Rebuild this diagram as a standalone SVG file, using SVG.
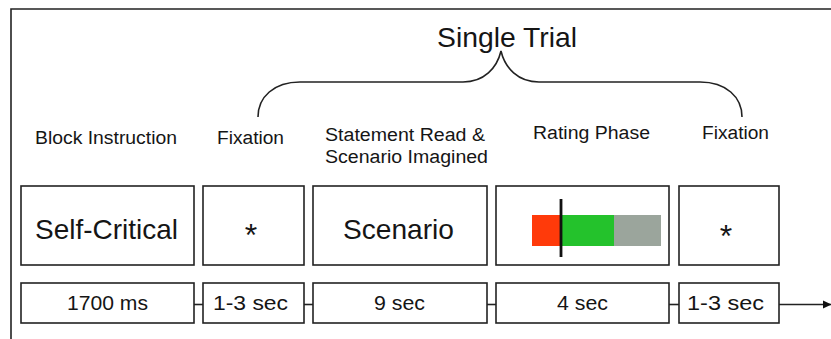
<svg xmlns="http://www.w3.org/2000/svg" width="831" height="339" viewBox="0 0 831 339">
<style>
text{font-family:"Liberation Sans",Arial,Helvetica,sans-serif;fill:#151515;text-anchor:middle}
.box{fill:#fff;stroke:#222;stroke-width:1.6}
.ln{fill:none;stroke:#222;stroke-width:1.6}
.lab{font-size:18.8px}
.big{font-size:28.5px}
.sm{font-size:20px}
.ast{font-size:32px}
</style>
<defs>
<marker id="arr" markerWidth="9" markerHeight="9" refX="8" refY="4.5" orient="auto" markerUnits="userSpaceOnUse">
<path d="M0,0.5 L8.5,4.5 L0,8.5 Z" fill="#111"/>
</marker>
</defs>
<g id="frame">
<path class="ln" d="M11,339 L11,9 L831,9"/>
</g>
<g id="title">
<text x="507" y="46.5" style="font-size:27.5px" textLength="140" lengthAdjust="spacingAndGlyphs">Single Trial</text>
<path class="ln" d="M258,117 C258,97 274,82 300,82 L463,82 C484,82 497,68 501,51 C505,68 518,82 539,82 L700,82 C726,82 742,97 742,117"/>
</g>
<g id="labels">
<text class="lab" x="106" y="144" textLength="142" lengthAdjust="spacingAndGlyphs">Block Instruction</text>
<text class="lab" x="250.5" y="143.5" textLength="67" lengthAdjust="spacingAndGlyphs">Fixation</text>
<text class="lab" x="405" y="140.5" textLength="160" lengthAdjust="spacingAndGlyphs">Statement Read &amp;</text>
<text class="lab" x="406.5" y="163" textLength="163" lengthAdjust="spacingAndGlyphs">Scenario Imagined</text>
<text class="lab" x="591.5" y="139" textLength="117" lengthAdjust="spacingAndGlyphs">Rating Phase</text>
<text class="lab" x="735.5" y="139" textLength="67" lengthAdjust="spacingAndGlyphs">Fixation</text>
</g>
<g id="instruction">
<rect class="box" x="21" y="186" width="173" height="79"/>
<text class="big" x="106.5" y="238.5" textLength="143" lengthAdjust="spacingAndGlyphs">Self-Critical</text>
</g>
<g id="fixation1">
<rect class="box" x="203" y="186" width="101" height="79"/>
<text class="ast" x="251" y="246">*</text>
</g>
<g id="scenario">
<rect class="box" x="313" y="186" width="174" height="79"/>
<text class="big" x="398.5" y="239.3" textLength="111" lengthAdjust="spacingAndGlyphs">Scenario</text>
</g>
<g id="rating">
<rect class="box" x="496" y="186" width="173" height="79"/>
<rect x="532" y="215" width="29" height="31" fill="#FF3A0A"/>
<rect x="561" y="215" width="53" height="31" fill="#24C22C"/>
<rect x="614" y="215" width="47" height="31" fill="#9BA59C"/>
<line x1="561" y1="199" x2="561" y2="257" stroke="#111" stroke-width="2.8"/>
</g>
<g id="fixation2">
<rect class="box" x="679" y="186" width="100" height="79"/>
<text class="ast" x="726" y="247">*</text>
</g>
<g id="t1"><rect class="box" x="21" y="283" width="173" height="40"/><text class="sm" x="107.5" y="310" textLength="81" lengthAdjust="spacingAndGlyphs">1700 ms</text></g>
<g id="t2"><rect class="box" x="203" y="283" width="101" height="40"/><text class="sm" x="250.5" y="310" textLength="75" lengthAdjust="spacingAndGlyphs">1-3 sec</text></g>
<g id="t3"><rect class="box" x="313" y="283" width="174" height="40"/><text class="sm" x="399.5" y="310" textLength="51" lengthAdjust="spacingAndGlyphs">9 sec</text></g>
<g id="t4"><rect class="box" x="496" y="283" width="173" height="40"/><text class="sm" x="582.5" y="310" textLength="51" lengthAdjust="spacingAndGlyphs">4 sec</text></g>
<g id="t5"><rect class="box" x="679" y="283" width="100" height="40"/><text class="sm" x="725.5" y="310" textLength="77" lengthAdjust="spacingAndGlyphs">1-3 sec</text></g>
<g id="connectors">
<line class="ln" x1="194" y1="304.5" x2="203" y2="304.5"/>
<line class="ln" x1="304" y1="304.5" x2="313" y2="304.5"/>
<line class="ln" x1="487" y1="304.5" x2="496" y2="304.5"/>
<line class="ln" x1="669" y1="304.5" x2="679" y2="304.5"/>
<line class="ln" x1="779" y1="304.5" x2="831" y2="304.5" marker-end="url(#arr)"/>
</g>
</svg>
